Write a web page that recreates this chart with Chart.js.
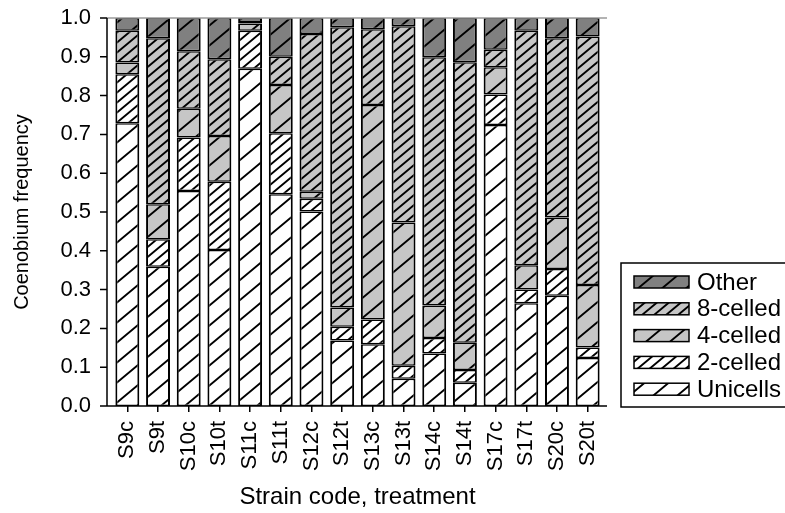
<!DOCTYPE html>
<html>
<head>
<meta charset="utf-8">
<title>Coenobium frequency by strain and treatment</title>
<script src="https://cdn.jsdelivr.net/npm/chart.js@4.4.0/dist/chart.umd.min.js"></script>
<style>
  html, body { margin: 0; padding: 0; background: #ffffff; }
  #wrap { width: 785px; height: 513px; position: relative; }
</style>
</head>
<body>
<div id="wrap"><canvas id="chart" width="785" height="513"></canvas></div>
<script>
// Strain code + treatment (c = control, t = treatment)
const categories = ['S9c', 'S9t', 'S10c', 'S10t', 'S11c', 'S11t', 'S12c', 'S12t',
                    'S13c', 'S13t', 'S14c', 'S14t', 'S17c', 'S17t', 'S20c', 'S20t'];

// Frequency of each coenobium type (stacked, bottom to top)
const unicells    = [0.729, 0.359, 0.554, 0.402, 0.869, 0.546, 0.501, 0.169, 0.159, 0.070, 0.135, 0.060, 0.724, 0.265, 0.284, 0.124];
const twoCelled   = [0.126, 0.071, 0.138, 0.176, 0.098, 0.157, 0.033, 0.035, 0.064, 0.034, 0.040, 0.033, 0.079, 0.035, 0.069, 0.027];
const fourCelled  = [0.030, 0.090, 0.074, 0.118, 0.019, 0.124, 0.018, 0.050, 0.553, 0.369, 0.084, 0.070, 0.070, 0.063, 0.133, 0.161];
const eightCelled = [0.082, 0.428, 0.148, 0.198, 0.004, 0.073, 0.407, 0.722, 0.195, 0.506, 0.640, 0.723, 0.045, 0.604, 0.462, 0.640];
const other       = [0.033, 0.052, 0.086, 0.106, 0.010, 0.100, 0.041, 0.024, 0.029, 0.021, 0.101, 0.114, 0.082, 0.033, 0.052, 0.048];

// Y axis tick values
const yTicks = [0.0, 0.1, 0.2, 0.3, 0.4, 0.5, 0.6, 0.7, 0.8, 0.9, 1.0];

const FONT = '"Liberation Sans", Arial, Helvetica, sans-serif';

// Diagonal "/" hatch fill on a coloured ground
function hatch(bg, h, w) {
  const c = document.createElement('canvas');
  c.width = w; c.height = h;
  const g = c.getContext('2d');
  g.fillStyle = bg;
  g.fillRect(0, 0, w, h);
  g.strokeStyle = '#000000';
  g.lineWidth = 1.9;
  g.beginPath();
  g.moveTo(-w, 2 * h); g.lineTo(w, 0);
  g.moveTo(0, h);      g.lineTo(w, 0);
  g.moveTo(0, 2 * h);  g.lineTo(2 * w, 0);
  g.moveTo(-w, h);     g.lineTo(w, -h);
  g.stroke();
  return g.createPattern(c, 'repeat');
}

const fillUni   = hatch('#ffffff', 20, 24);
const fillTwo   = hatch('#ffffff', 10, 12);
const fillFour  = hatch('#c6c6c6', 20, 24);
const fillEight = hatch('#c6c6c6', 10, 12);
const fillOther = hatch('#808080', 20, 24);

function series(label, data, fill) {
  return {
    label, data,
    backgroundColor: fill,
    borderColor: '#000000',
    borderWidth: { top: 1.5, bottom: 1.5, left: 2, right: 2 },
    borderSkipped: false,
    barPercentage: 0.78,
    categoryPercentage: 1.0
  };
}

// Axis lines, y tick marks, top rule and framed legend
const axesAndLegend = {
  id: 'axesAndLegend',
  afterDraw(chart) {
    const { ctx, chartArea: a, scales } = chart;
    const y = scales.y;
    const axisX = a.left - 5;
    ctx.save();
    ctx.lineCap = 'butt';

    // top rule
    ctx.strokeStyle = '#9a9a9a';
    ctx.lineWidth = 1.5;
    ctx.beginPath();
    ctx.moveTo(axisX, a.top);
    ctx.lineTo(a.right + 4, a.top);
    ctx.stroke();

    ctx.strokeStyle = '#000000';
    ctx.lineWidth = 1.5;
    ctx.beginPath();
    ctx.moveTo(axisX, a.top);
    ctx.lineTo(axisX, a.bottom);
    ctx.moveTo(axisX, a.bottom);
    ctx.lineTo(a.right + 4, a.bottom);
    y.ticks.forEach((t, i) => {
      const py = y.getPixelForTick(i);
      ctx.moveTo(axisX - 7, py);
      ctx.lineTo(axisX, py);
    });
    ctx.stroke();

    // legend frame
    ctx.lineWidth = 1.5;
    ctx.strokeRect(621, 263, 200, 144);

    // legend entries, top to bottom: Other ... Unicells
    const items = chart.data.datasets.slice().reverse();
    ctx.font = '24px ' + FONT;
    ctx.textBaseline = 'middle';
    ctx.textAlign = 'left';
    items.forEach((ds, i) => {
      const cy = 282 + i * 26.8;
      const bh = 12;
      ctx.fillStyle = ds.backgroundColor;
      ctx.fillRect(634, cy - bh / 2, 55, bh);
      ctx.lineWidth = 1.5;
      ctx.strokeStyle = '#000000';
      ctx.strokeRect(634, cy - bh / 2, 55, bh);
      ctx.fillStyle = '#000000';
      ctx.fillText(ds.label, 697, cy + 1);
    });
    ctx.restore();
  }
};

new Chart(document.getElementById('chart'), {
  type: 'bar',
  data: {
    labels: categories,
    datasets: [
      series('Unicells', unicells, fillUni),
      series('2-celled', twoCelled, fillTwo),
      series('4-celled', fourCelled, fillFour),
      series('8-celled', eightCelled, fillEight),
      series('Other', other, fillOther)
    ]
  },
  options: {
    responsive: false,
    animation: false,
    devicePixelRatio: 1,
    layout: { padding: { top: 18, right: 182, bottom: 0, left: 0 } },
    plugins: {
      legend: { display: false },
      tooltip: { enabled: false }
    },
    scales: {
      x: {
        stacked: true,
        offset: true,
        afterFit(scale) { scale.height = 107; },
        grid: {
          offset: false,
          drawOnChartArea: false,
          drawTicks: true,
          tickLength: 6,
          color: '#000000',
          lineWidth: 1.5
        },
        border: { display: false },
        ticks: {
          autoSkip: false,
          minRotation: 90,
          maxRotation: 90,
          padding: 9,
          color: '#000000',
          font: { family: FONT, size: 22 }
        },
        title: {
          display: true,
          text: 'Strain code, treatment',
          color: '#000000',
          font: { family: FONT, size: 24 },
          padding: { top: 0, bottom: 1 }
        }
      },
      y: {
        stacked: true,
        min: 0,
        max: 1,
        afterFit(scale) {
          scale.width = 112;
          scale.paddingTop = 0;
          scale.paddingBottom = 0;
        },
        afterBuildTicks(scale) { scale.ticks = yTicks.map(v => ({ value: v })); },
        grid: { display: false, drawTicks: false },
        border: { display: false },
        ticks: {
          autoSkip: false,
          padding: 21,
          color: '#000000',
          font: { family: FONT, size: 22 },
          callback: v => Number(v).toFixed(1)
        },
        title: {
          display: true,
          text: 'Coenobium frequency',
          color: '#000000',
          font: { family: FONT, size: 20 },
          padding: { top: 10, bottom: 0 }
        }
      }
    }
  },
  plugins: [axesAndLegend]
});
</script>
</body>
</html>
